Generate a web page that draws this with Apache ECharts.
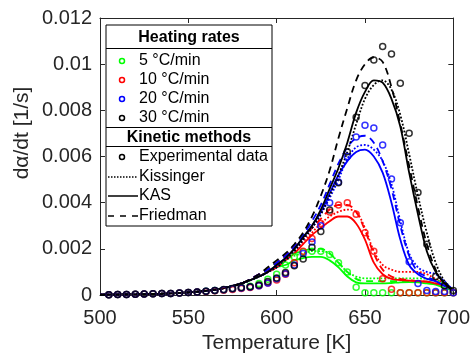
<!DOCTYPE html>
<html>
<head>
<meta charset="utf-8">
<script src="https://cdn.jsdelivr.net/npm/echarts@6/dist/echarts.min.js"></script>
<style>
  html, body { margin: 0; padding: 0; background: #fff; }
  #chart { width: 473px; height: 359px; }
</style>
</head>
<body>
<div id="chart"></div>
<script>
// heating rates and axis ticks
const heatingRates = [ '5 °C/min', '10 °C/min', '20 °C/min', '30 °C/min' ]
const methods = [ 'Experimental data', 'Kissinger', 'KAS', 'Friedman' ]
const xTicks = [ 500, 550, 600, 650, 700 ]
const yTicks = [ 0, 0.002, 0.004, 0.006, 0.008, 0.01, 0.012 ]

// experimental points, K
const expTemps = [ 505, 510, 515, 520, 525, 530, 535, 540, 545, 550, 555, 560, 565, 570, 575, 580, 585, 590, 595, 600,
  605, 610, 615, 620, 625, 630, 635, 640, 645, 650, 655, 660, 665, 670, 675, 680, 685, 690, 695, 700 ]
const exp5 = [ 0.00001, 0.00002, 0.00002, 0.00003, 0.00004, 0.00005, 0.00006, 0.00007, 0.00009, 0.00011, 0.00013, 0.00016, 0.0002, 0.00022, 0.00026, 0.0003, 0.00038, 0.0005, 0.00068, 0.0009,
  0.0013, 0.00165, 0.00186, 0.0019, 0.0019, 0.00175, 0.0014, 0.001, 0.00034, 0.0001, 0.0001, 0.0001, 0.0001, 0.0001, 0.0001, 0.0001, 0.0001, 0.0001, 0.0001, 0.0001 ]
const exp10 = [ 0.00001, 0.00002, 0.00002, 0.00003, 0.00004, 0.00005, 0.00006, 0.00007, 0.00009, 0.00011, 0.00013, 0.00015, 0.00018, 0.00021, 0.00024, 0.00028, 0.00033, 0.0004, 0.00052, 0.00065,
  0.0009, 0.0014, 0.0019, 0.00245, 0.0031, 0.0036, 0.0039, 0.004, 0.0035, 0.0027, 0.0019, 0.0007, 0.00025, 0.0001, 0.0001, 0.0001, 0.0001, 0.0001, 0.0001, 0.0001 ]
const exp20 = [ 0.00001, 0.00002, 0.00002, 0.00003, 0.00004, 0.00005, 0.00006, 0.00007, 0.00009, 0.00011, 0.00013, 0.00016, 0.00019, 0.00023, 0.00027, 0.0003, 0.00035, 0.0004, 0.00052, 0.0007,
  0.00092, 0.0013, 0.0018, 0.0023, 0.003, 0.004, 0.0049, 0.006, 0.00684, 0.00735, 0.00723, 0.0065, 0.00503, 0.00313, 0.00144, 0.0005, 0.0002, 0.00015, 0.00015, 0.0001 ]
const exp30 = [ 0.00001, 0.00002, 0.00002, 0.00003, 0.00004, 0.00005, 0.00006, 0.00007, 0.00009, 0.00011, 0.00013, 0.00016, 0.0002, 0.00024, 0.00028, 0.00032, 0.00036, 0.00043, 0.00059, 0.00074,
  0.00097, 0.00127, 0.00156, 0.00207, 0.00275, 0.00368, 0.00486, 0.00621, 0.0077, 0.00908, 0.01018, 0.01077, 0.01044, 0.00917, 0.00701, 0.00444, 0.0022, 0.0008, 0.0004, 0.0002 ]

// model curves, K
const modelTemps = [ 500, 520, 540, 560, 570, 580, 590, 595, 600, 605, 610, 615, 620, 625, 630, 635, 640, 645, 650, 655,
  660, 665, 670, 675, 680, 685, 690, 695, 700 ]

const kis5 = [ 0.00001, 0.00003, 0.00007, 0.00018, 0.0003, 0.0005, 0.0008, 0.001, 0.0013, 0.0015, 0.0017, 0.0018, 0.0019, 0.0019, 0.0018, 0.0014, 0.001, 0.0008, 0.00072, 0.00072,
  0.00072, 0.00072, 0.00072, 0.00072, 0.00072, 0.0007, 0.00065, 0.0005, 0.0002 ]
const kas5 = [ 0.00001, 0.00003, 0.00007, 0.00018, 0.0003, 0.0005, 0.0008, 0.001, 0.0012, 0.0013, 0.0015, 0.0016, 0.00165, 0.00165, 0.0015, 0.0012, 0.0008, 0.00055, 0.0005, 0.0005,
  0.0005, 0.00052, 0.00055, 0.00056, 0.00055, 0.0005, 0.00045, 0.0003, 0.0002 ]
const fri5 = [ 0.00001, 0.00003, 0.00007, 0.00018, 0.0003, 0.0005, 0.0008, 0.0011, 0.0014, 0.0016, 0.0018, 0.0019, 0.002, 0.002, 0.0018, 0.0014, 0.001, 0.0007, 0.0006, 0.0006,
  0.0006, 0.0006, 0.0006, 0.0006, 0.0006, 0.00058, 0.0005, 0.0004, 0.0002 ]

const kis10 = [ 0.00001, 0.00003, 0.00007, 0.00018, 0.0003, 0.0005, 0.0008, 0.001, 0.0012, 0.0015, 0.0019, 0.0023, 0.0027, 0.0031, 0.0034, 0.0036, 0.0037, 0.0036, 0.0029, 0.0019,
  0.0013, 0.0011, 0.001, 0.001, 0.001, 0.0009, 0.0007, 0.0005, 0.0002 ]
const kas10 = [ 0.00001, 0.00003, 0.00007, 0.00018, 0.0003, 0.0005, 0.0008, 0.001, 0.0012, 0.0015, 0.0018, 0.0022, 0.0026, 0.0029, 0.0032, 0.0034, 0.0034, 0.0031, 0.0024, 0.0014,
  0.0009, 0.0007, 0.00065, 0.00062, 0.0006, 0.00058, 0.0005, 0.0004, 0.0002 ]
const fri10 = [ 0.00001, 0.00003, 0.00007, 0.00018, 0.0003, 0.0005, 0.0009, 0.0011, 0.0014, 0.0017, 0.0021, 0.0025, 0.0029, 0.0033, 0.0037, 0.0039, 0.0039, 0.0036, 0.0028, 0.0018,
  0.0011, 0.0008, 0.0007, 0.00065, 0.0006, 0.00058, 0.0005, 0.0004, 0.0002 ]

const kis20 = [ 0.00001, 0.00003, 0.00007, 0.00018, 0.0003, 0.0005, 0.0008, 0.001, 0.0012, 0.0015, 0.0019, 0.0024, 0.0029, 0.0035, 0.0042, 0.005, 0.0059, 0.0064, 0.0065, 0.0063,
  0.0058, 0.0048, 0.0032, 0.0018, 0.0012, 0.001, 0.0009, 0.0006, 0.0002 ]
const kas20 = [ 0.00001, 0.00003, 0.00007, 0.00018, 0.0003, 0.0005, 0.0008, 0.001, 0.0013, 0.0016, 0.002, 0.0025, 0.003, 0.0036, 0.0044, 0.0052, 0.0058, 0.0062, 0.0063, 0.006,
  0.0053, 0.004, 0.0024, 0.0013, 0.0009, 0.0007, 0.0006, 0.0004, 0.0002 ]
const fri20 = [ 0.00001, 0.00003, 0.00007, 0.00018, 0.0003, 0.0005, 0.0009, 0.0011, 0.0014, 0.0017, 0.0021, 0.0026, 0.0032, 0.0039, 0.0048, 0.0057, 0.0064, 0.0068, 0.0069, 0.0066,
  0.0058, 0.0046, 0.003, 0.0017, 0.001, 0.0008, 0.0006, 0.0004, 0.0002 ]

const kis30 = [ 0.00001, 0.00003, 0.00007, 0.00018, 0.0003, 0.0005, 0.0008, 0.001, 0.0012, 0.0015, 0.0019, 0.0024, 0.0029, 0.0035, 0.0043, 0.0052, 0.0062, 0.0074, 0.0085, 0.0091,
  0.0093, 0.0089, 0.0078, 0.0061, 0.0043, 0.0027, 0.0014, 0.0006, 0.0002 ]
const kas30 = [ 0.00001, 0.00003, 0.00007, 0.00018, 0.0003, 0.0005, 0.0008, 0.001, 0.0013, 0.0016, 0.002, 0.0025, 0.003, 0.0037, 0.0046, 0.0055, 0.0066, 0.0079, 0.0088, 0.0093,
  0.0092, 0.0085, 0.0073, 0.0053, 0.0035, 0.0019, 0.001, 0.0005, 0.0002 ]
const fri30 = [ 0.00001, 0.00003, 0.00007, 0.00018, 0.0003, 0.0005, 0.0009, 0.0012, 0.0015, 0.0018, 0.0022, 0.0027, 0.0034, 0.0043, 0.0054, 0.0068, 0.0081, 0.0093, 0.01, 0.0103,
  0.0101, 0.009, 0.0074, 0.0056, 0.0038, 0.0022, 0.0011, 0.0005, 0.0002 ]

const rateColors = [ '#00ff00', '#ff0000', '#0000ff', '#000000' ]
const expData = [ exp5, exp10, exp20, exp30 ]
const kisData = [ kis5, kis10, kis20, kis30 ]
const kasData = [ kas5, kas10, kas20, kas30 ]
const friData = [ fri5, fri10, fri20, fri30 ]

const FONT = '"Liberation Sans", Arial, Helvetica, sans-serif'
const AXIS_COLOR = '#262626'

const pairs = ( xs, ys ) => xs.map( ( x, i ) => [ x, ys[ i ] ] )

const lineSeries = ( name, values, color, type ) => ( {
  name : name,
  type : 'line',
  xAxisIndex : 0,
  yAxisIndex : 0,
  data : pairs( modelTemps, values ),
  showSymbol : false,
  smooth : 0.35,
  silent : true,
  animation : false,
  lineStyle : { color : color, width : 1.8, type : type },
  z : 2
} )

const series = []
rateColors.forEach( ( color, i ) => {
  series.push( lineSeries( 'Kissinger ' + heatingRates[ i ], kisData[ i ], color, [ 1.8, 1.8 ] ) )
  series.push( lineSeries( 'KAS ' + heatingRates[ i ], kasData[ i ], color, 'solid' ) )
  series.push( lineSeries( 'Friedman ' + heatingRates[ i ], friData[ i ], color, [ 7, 5 ] ) )
} )
rateColors.forEach( ( color, i ) => {
  series.push( {
    name : heatingRates[ i ],
    type : 'scatter',
    data : pairs( expTemps, expData[ i ] ),
    symbol : 'circle',
    symbolSize : 6,
    animation : false,
    itemStyle : { color : 'rgba(0,0,0,0)', borderColor : color, borderWidth : 1.5 },
    z : 3
  } )
} )

// legend drawn by hand, MATLAB-like grouped box
const LX = 106, LY = 25, LW = 166, LH = 201
const legendItems = [
  { type : 'rect', shape : { x : LX, y : LY, width : LW, height : LH }, style : { fill : '#fff', stroke : '#000', lineWidth : 1 }},
  { type : 'line', shape : { x1 : LX, y1 : 48.5, x2 : LX + LW, y2 : 48.5 }, style : { stroke : '#000', lineWidth : 1 }},
  { type : 'line', shape : { x1 : LX, y1 : 127.5, x2 : LX + LW, y2 : 127.5 }, style : { stroke : '#000', lineWidth : 1 }},
  { type : 'line', shape : { x1 : LX, y1 : 146.5, x2 : LX + LW, y2 : 146.5 }, style : { stroke : '#000', lineWidth : 1 }},
  { type : 'text', x : LX + LW / 2, y : 38, style : { text : 'Heating rates', font : 'bold 16px ' + FONT, fill : '#000', align : 'center', verticalAlign : 'middle' }},
  { type : 'text', x : LX + LW / 2, y : 137.5, style : { text : 'Kinetic methods', font : 'bold 16px ' + FONT, fill : '#000', align : 'center', verticalAlign : 'middle' }}
]
const rateRows = [ 61, 80, 99, 118 ]
heatingRates.forEach( ( label, i ) => {
  legendItems.push( { type : 'circle', shape : { cx : 122, cy : rateRows[ i ], r : 2.5 }, style : { fill : 'none', stroke : rateColors[ i ], lineWidth : 1.5 }} )
  legendItems.push( { type : 'text', x : 139, y : rateRows[ i ], style : { text : label, font : '16px ' + FONT, fill : '#000', verticalAlign : 'middle' }} )
} )
const methodRows = [ 157, 177, 196, 216 ]
legendItems.push( { type : 'circle', shape : { cx : 122, cy : methodRows[ 0 ], r : 2.5 }, style : { fill : 'none', stroke : '#000', lineWidth : 1.5 }} )
legendItems.push( { type : 'line', shape : { x1 : 108, y1 : methodRows[ 1 ], x2 : 138, y2 : methodRows[ 1 ] }, style : { stroke : '#000', lineWidth : 1.5, lineDash : [ 1.5, 1.5 ] }} )
legendItems.push( { type : 'line', shape : { x1 : 108, y1 : methodRows[ 2 ], x2 : 138, y2 : methodRows[ 2 ] }, style : { stroke : '#000', lineWidth : 1.5 }} )
legendItems.push( { type : 'line', shape : { x1 : 108, y1 : methodRows[ 3 ], x2 : 138, y2 : methodRows[ 3 ] }, style : { stroke : '#000', lineWidth : 1.5, lineDash : [ 6, 6 ] }} )
methods.forEach( ( label, i ) => {
  legendItems.push( { type : 'text', x : 139, y : methodRows[ i ], style : { text : label, font : '16px ' + FONT, fill : '#000', verticalAlign : 'middle' }} )
} )
legendItems.forEach( el => { el.z = 100 } )

const baseAxis = {
  type : 'value',
  axisLine : { show : true, onZero : false, lineStyle : { color : AXIS_COLOR, width : 1 }},
  axisTick : { show : true, inside : true, length : 5, lineStyle : { color : AXIS_COLOR, width : 1 }},
  splitLine : { show : false },
  axisLabel : { color : AXIS_COLOR, fontSize : 20, fontFamily : FONT }
}

const chart = echarts.init( document.getElementById( 'chart' ), null, { renderer : 'canvas' } )

chart.setOption( {
  backgroundColor : '#fff',
  animation : false,
  grid : { left : 100, top : 18, width : 357, height : 284 },
  xAxis : [
    Object.assign( {}, baseAxis, {
      position : 'bottom',
      min : xTicks[ 0 ],
      max : xTicks[ xTicks.length - 1 ],
      interval : xTicks[ 1 ] - xTicks[ 0 ],
      name : 'Temperature [K]',
      nameLocation : 'middle',
      nameGap : 38,
      nameTextStyle : { color : AXIS_COLOR, fontSize : 21, fontFamily : FONT },
      axisLabel : Object.assign( {}, baseAxis.axisLabel, { margin : 13 } )
    } ),
    Object.assign( {}, baseAxis, {
      position : 'top',
      min : xTicks[ 0 ],
      max : xTicks[ xTicks.length - 1 ],
      interval : xTicks[ 1 ] - xTicks[ 0 ],
      axisLabel : { show : false }
    } )
  ],
  yAxis : [
    Object.assign( {}, baseAxis, {
      position : 'left',
      min : yTicks[ 0 ],
      max : yTicks[ yTicks.length - 1 ],
      interval : yTicks[ 1 ] - yTicks[ 0 ],
      axisLabel : Object.assign( {}, baseAxis.axisLabel, {
        margin : 8,
        formatter : v => String( +v.toFixed( 3 ) )
      } )
    } ),
    Object.assign( {}, baseAxis, {
      position : 'right',
      min : yTicks[ 0 ],
      max : yTicks[ yTicks.length - 1 ],
      interval : yTicks[ 1 ] - yTicks[ 0 ],
      axisLabel : { show : false }
    } )
  ],
  graphic : [
    {
      type : 'text',
      x : 22,
      y : 133,
      rotation : Math.PI / 2,
      style : { text : 'dα/dt [1/s]', font : '21px ' + FONT, fill : AXIS_COLOR, align : 'center', verticalAlign : 'middle' },
      z : 100
    },
    ...legendItems
  ],
  series : series
} )
</script>
</body>
</html>
